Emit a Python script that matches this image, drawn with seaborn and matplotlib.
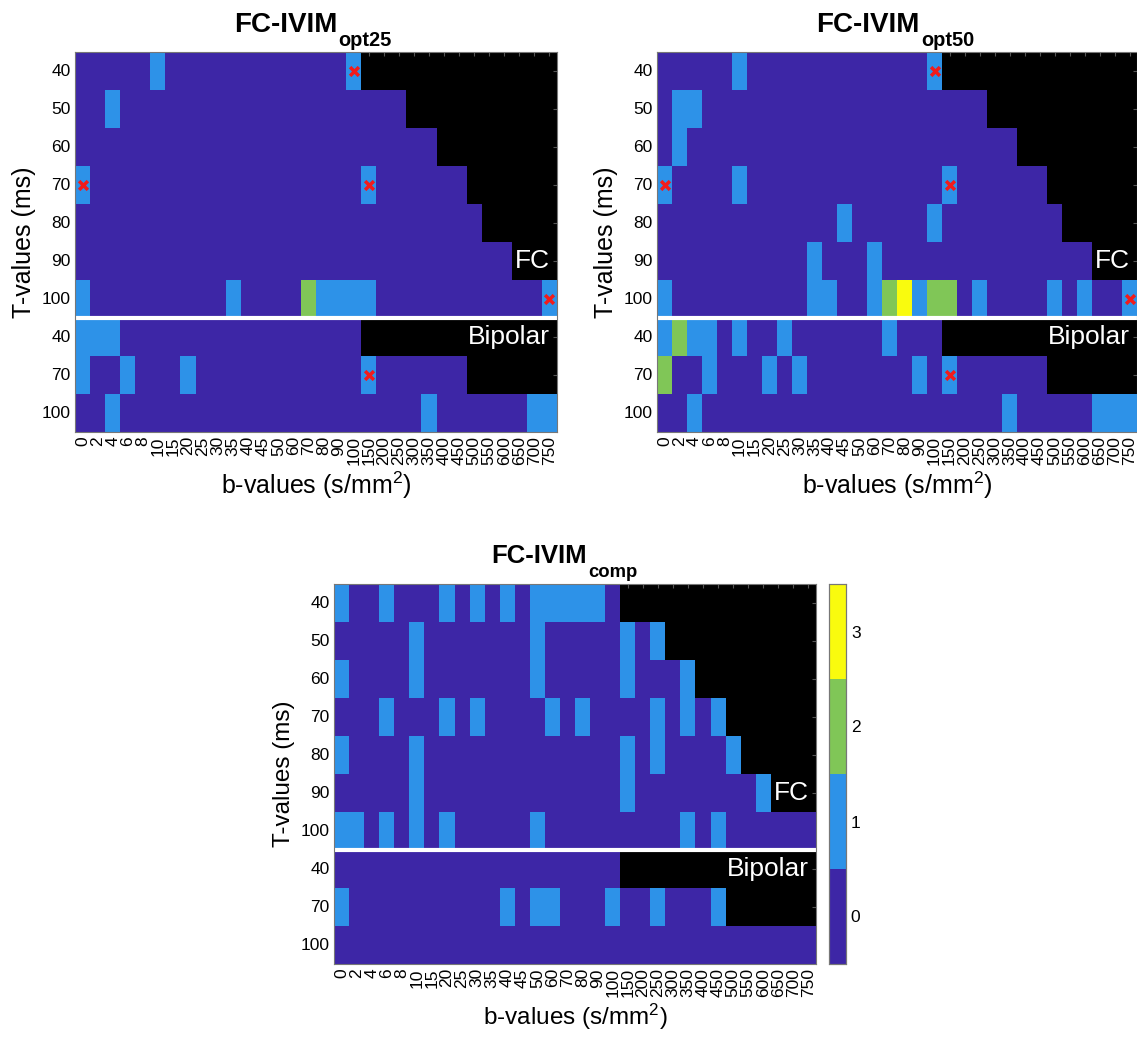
import numpy as np
import seaborn as sns
import matplotlib.pyplot as plt
from matplotlib.colors import ListedColormap

sns.set_style("white")
plt.rcParams["font.family"] = ["Liberation Sans", "DejaVu Sans"]
plt.rcParams["mathtext.fontset"] = "custom"
plt.rcParams["mathtext.rm"] = "Liberation Sans"
plt.rcParams["mathtext.bf"] = "Liberation Sans:bold"
plt.rcParams["mathtext.it"] = "Liberation Sans:italic"
plt.rcParams["text.color"] = "black"
plt.rcParams["axes.labelcolor"] = "black"
plt.rcParams["xtick.labelcolor"] = "black"
plt.rcParams["ytick.labelcolor"] = "black"

# ---- data ----
b_values = [0, 2, 4, 6, 8, 10, 15, 20, 25, 30, 35, 40, 45, 50, 60, 70, 80, 90, 100,
            150, 200, 250, 300, 350, 400, 450, 500, 550, 600, 650, 700, 750]
t_values = [40, 50, 60, 70, 80, 90, 100, 40, 70, 100]   # 7 FC rows, then 3 bipolar rows

# one string per T-value row, one char per b-value, '#' = not acquired (black)
opt25_rows = [
    "00000 10000 00000 0001# ##### ##### ##",
    "00100 00000 00000 00000 00### ##### ##",
    "00000 00000 00000 00000 0000# ##### ##",
    "10000 00000 00000 00001 00000 0#### ##",
    "00000 00000 00000 00000 00000 00### ##",
    "00000 00000 00000 00000 00000 0000# ##",
    "10000 00000 10000 21111 00000 00000 01",
    "11100 00000 00000 0000# ##### ##### ##",
    "10010 00100 00000 00001 00000 0#### ##",
    "00100 00000 00000 00000 00010 00000 11",
]
opt50_rows = [
    "00000 10000 00000 0001# ##### ##### ##",
    "01100 00000 00000 00000 00### ##### ##",
    "01000 00000 00000 00000 0000# ##### ##",
    "10000 10000 00000 00001 00000 0#### ##",
    "00000 00000 00100 00010 00000 00### ##",
    "00000 00000 10001 00000 00000 0000# ##",
    "10000 00000 11001 23122 01000 01010 01",
    "12110 10010 00000 1000# ##### ##### ##",
    "20010 00101 00000 00101 00000 0#### ##",
    "00100 00000 00000 00000 00010 00001 11",
]
comp_rows = [
    "10010 00101 01011 1110# ##### ##### ##",
    "00000 10000 00010 00001 01### ##### ##",
    "10000 10000 00010 00001 0001# ##### ##",
    "00010 00101 00001 01000 01010 1#### ##",
    "10000 10000 00000 00001 01000 01### ##",
    "00000 10000 00000 00001 00000 0001# ##",
    "11010 10100 00010 00000 00010 10000 00",
    "00000 00000 00000 0000# ##### ##### ##",
    "10000 00000 01011 00010 01000 1#### ##",
    "00000 00000 00000 00000 00000 00000 00",
]
# red crosses (row index, b-value index) in the optimised protocols
cross_cells = [(0, 18), (3, 0), (3, 19), (6, 31), (8, 19)]


def to_matrix(rows):
    out = []
    for r in rows:
        r = r.replace(" ", "")
        assert len(r) == len(b_values)
        out.append([np.nan if c == "#" else float(c) for c in r])
    return np.array(out)


cmap = ListedColormap(["#3D26A6", "#2D92E8", "#80C657", "#F9FB0E"])

fig = plt.figure(figsize=(11.37, 10.38), dpi=100)
W, H = 1137, 1038
ax1 = fig.add_axes([75 / W, (H - 432) / H, 482 / W, 380 / H])
ax2 = fig.add_axes([657 / W, (H - 432) / H, 480 / W, 380 / H])
ax3 = fig.add_axes([334 / W, (H - 964) / H, 482 / W, 380 / H])
cax = fig.add_axes([829 / W, (H - 964) / H, 17 / W, 380 / H])

# axes, rows, title subscript, crosses?, title anchor (px x, px baseline y), title size, label size
panels = [
    (ax1, opt25_rows, "opt25", True, (337, 32), 20, 18),
    (ax2, opt50_rows, "opt50", True, (920, 32), 20, 18),
    (ax3, comp_rows, "comp", False, (587, 563), 18.5, 17.5),
]

for ax, rows, sub, crosses, (tx, ty), tsize, lsize in panels:
    mat = to_matrix(rows)
    ax.set_facecolor("black")
    sns.heatmap(mat, ax=ax, cmap=cmap, vmin=-0.5, vmax=3.5,
                cbar=(ax is ax3), cbar_ax=cax if ax is ax3 else None,
                cbar_kws={"ticks": [0, 1, 2, 3]} if ax is ax3 else None,
                xticklabels=b_values, yticklabels=t_values)
    ax.axhline(7, color="white", lw=3)
    if crosses:
        rr = [r + 0.5 for r, c in cross_cells]
        cc = [c + 0.5 for r, c in cross_cells]
        ax.scatter(cc, rr, marker="x", color="#F21B1B", s=40, linewidths=2.5, zorder=5)
    ax.text(31.5, 5.5, "FC", color="white", ha="right", va="center", fontsize=19)
    ax.text(31.5, 7.5, "Bipolar", color="white", ha="right", va="center", fontsize=19)
    ax.set_xticklabels(b_values, rotation=90, fontsize=12.5, color="black")
    ax.set_yticklabels(t_values, rotation=0, fontsize=12.5, color="black")
    ax.tick_params(direction="in", length=3, color="#555555", top=True, right=True, pad=3)
    for s in ax.spines.values():
        s.set_visible(True)
        s.set_color("#777777")
        s.set_linewidth(0.8)
    ax.set_xlabel(r"b-values (s/mm$^2$)", fontsize=lsize, labelpad=3, color="black")
    ax.set_ylabel("T-values (ms)", fontsize=lsize, labelpad=4, color="black")

    # title with a deep subscript, as in the original
    fig.text(tx / W, 1 - ty / H, "FC-IVIM", fontsize=tsize, fontweight="bold",
             ha="right", va="baseline", color="black")
    fig.text((tx + 1) / W, 1 - (ty + 14) / H, sub, fontsize=tsize * 0.72, fontweight="bold",
             ha="left", va="baseline", color="black")

cax.tick_params(labelsize=12.5, direction="in", length=3, labelcolor="black")
for s in cax.spines.values():
    s.set_visible(True)
    s.set_color("#777777")
    s.set_linewidth(0.8)

fig.savefig("out.png", dpi=100)
